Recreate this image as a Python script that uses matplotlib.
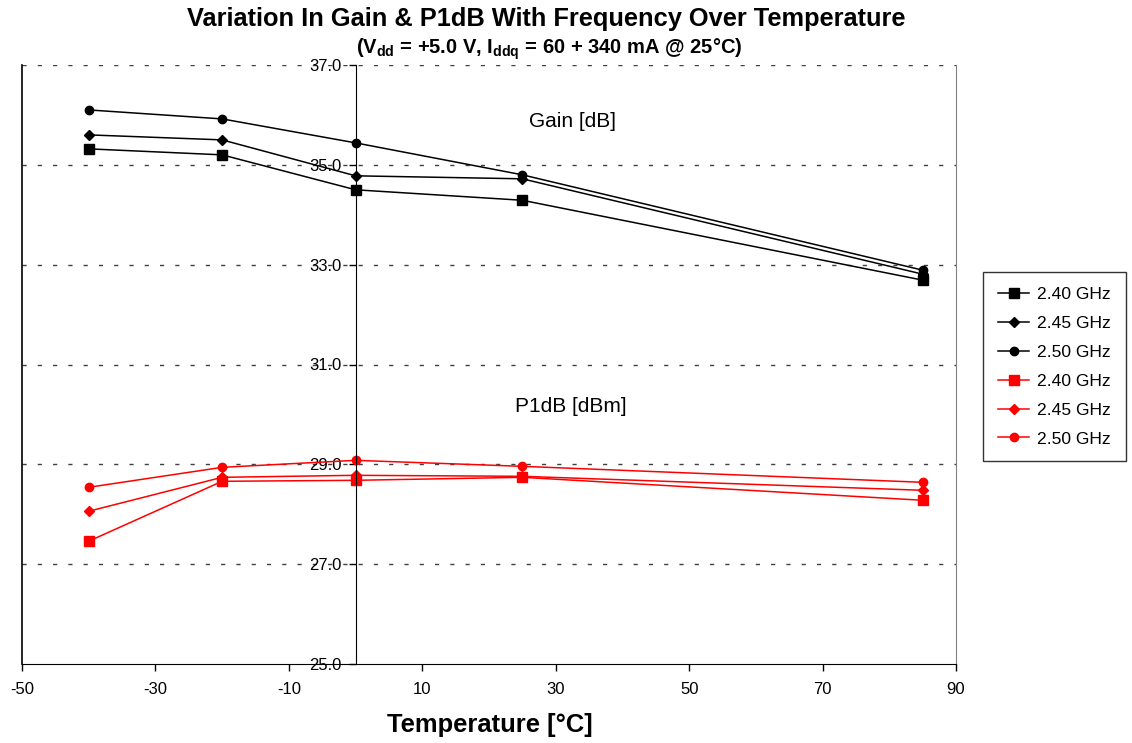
import matplotlib.pyplot as plt

# data
temps = [-40, -20, 0, 25, 85]
freqs = ['2.40 GHz', '2.45 GHz', '2.50 GHz']

gain_240 = [35.32, 35.20, 34.50, 34.29, 32.69]
gain_245 = [35.60, 35.50, 34.78, 34.72, 32.81]
gain_250 = [36.10, 35.92, 35.44, 34.80, 32.89]

p1db_240 = [27.46, 28.66, 28.68, 28.74, 28.28]
p1db_245 = [28.06, 28.74, 28.78, 28.76, 28.48]
p1db_250 = [28.54, 28.94, 29.08, 28.96, 28.64]

yticks = [25, 27, 29, 31, 33, 35, 37]
xticks = [-50, -30, -10, 10, 30, 50, 70, 90]

plt.rcParams['font.family'] = ['Liberation Sans', 'DejaVu Sans']
plt.rcParams['axes.unicode_minus'] = False
plt.rcParams['mathtext.fontset'] = 'custom'
plt.rcParams['mathtext.bf'] = 'Liberation Sans:bold'
plt.rcParams['mathtext.rm'] = 'Liberation Sans:bold'

fig = plt.figure(figsize=(11.32, 7.43), dpi=100)
ax = fig.add_axes([22 / 1132, 1 - 664 / 743, (956 - 22) / 1132, (664 - 65) / 743])

markers = ['s', 'D', 'o']
msizes = [7, 5, 6]
gains = [gain_240, gain_245, gain_250]
p1dbs = [p1db_240, p1db_245, p1db_250]

handles = []
for g, m, ms, lab in zip(gains, markers, msizes, freqs):
    h, = ax.plot(temps, g, color='black', marker=m, markersize=ms, linewidth=1.1, label=lab)
    handles.append(h)
for p, m, ms, lab in zip(p1dbs, markers, msizes, freqs):
    h, = ax.plot(temps, p, color='#FF0000', marker=m, markersize=ms, linewidth=1.1, label=lab)
    handles.append(h)

ax.set_xlim(-50, 90)
ax.set_ylim(25, 37)
ax.set_xticks(xticks)
ax.set_yticks(yticks)
ax.set_yticklabels([f'{v:.1f}' for v in yticks])
ax.tick_params(axis='both', labelsize=12, direction='out', length=5, width=1)
ax.tick_params(axis='x', pad=8)
ax.tick_params(axis='y', pad=5)

# y axis crosses at 0 degC
ax.spines['left'].set_position(('data', 0))
ax.spines['left'].set_zorder(3)
ax.spines['top'].set_visible(False)
ax.spines['right'].set_color('#808080')
ax.axvline(-50, color='black', linewidth=1.2, clip_on=False)

for v in yticks[1:]:
    ax.axhline(v, color='#404040', linewidth=1, linestyle=(0, (3, 8)), zorder=0)

ax.text(32.5, 35.86, 'Gain [dB]', fontsize=15, ha='center', va='center')
ax.text(32.3, 30.16, 'P1dB [dBm]', fontsize=15, ha='center', va='center')

fig.text(546 / 1132, 1 - 19 / 743, 'Variation In Gain & P1dB With Frequency Over Temperature',
         fontsize=18.3, fontweight='bold', ha='center', va='center')
fig.text(549 / 1132, 1 - 49 / 743,
         r'(V$_{\mathbf{dd}}$ = +5.0 V, I$_{\mathbf{ddq}}$ = 60 + 340 mA @ 25°C)',
         fontsize=14.5, fontweight='bold', ha='center', va='center')
fig.text(490 / 1132, 1 - 725 / 743, 'Temperature [°C]', fontsize=18.4, fontweight='bold',
         ha='center', va='center')

leg = fig.legend(handles=handles, loc='upper left',
                 bbox_to_anchor=(983 / 1132, 1 - 272 / 743), borderaxespad=0,
                 fontsize=12.6, frameon=True, fancybox=False, edgecolor='black',
                 handlelength=1.8, handletextpad=0.45, labelspacing=0.78, borderpad=0.85)
leg.get_frame().set_linewidth(1)

fig.savefig('out.png', dpi=100)
